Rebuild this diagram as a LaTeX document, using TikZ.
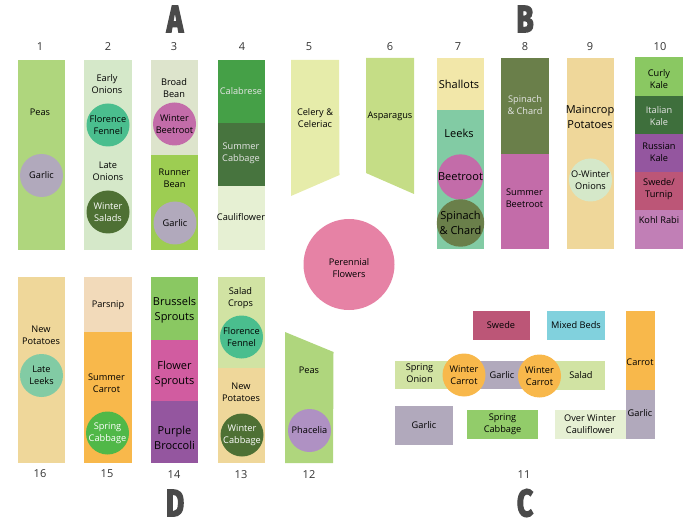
\documentclass[tikz,border=0pt]{standalone}
\usepackage{fontspec}
\setmainfont{Open Sans}
\newfontfamily\blockfont[FakeBold=4]{Fira Sans}
\definecolor{peagreen}{HTML}{AFD67D}
\definecolor{palegreen}{HTML}{D5E8C9}
\definecolor{beangrey}{HTML}{DDE4CC}
\definecolor{beangreen}{HTML}{9DCD52}
\definecolor{calabrese}{HTML}{45A047}
\definecolor{cabbagedark}{HTML}{47743E}
\definecolor{caulipale}{HTML}{E6F0D3}
\definecolor{celery}{HTML}{E6ECAA}
\definecolor{asparagus}{HTML}{C5DD86}
\definecolor{perennial}{HTML}{E682A5}
\definecolor{shallot}{HTML}{F2E7A9}
\definecolor{leek}{HTML}{82CBA4}
\definecolor{chard}{HTML}{6A7F4A}
\definecolor{beetroot}{HTML}{C36CA9}
\definecolor{potato}{HTML}{EFD79A}
\definecolor{curly}{HTML}{8AC862}
\definecolor{italian}{HTML}{3E6F3C}
\definecolor{russian}{HTML}{94569F}
\definecolor{swede}{HTML}{BC5677}
\definecolor{kohl}{HTML}{C17FB6}
\definecolor{parsnip}{HTML}{F2DABA}
\definecolor{carrot}{HTML}{F8B84B}
\definecolor{flowersprout}{HTML}{D15CA0}
\definecolor{saladgreen}{HTML}{D1E3A3}
\definecolor{garlic}{HTML}{B1A9BC}
\definecolor{fennel}{HTML}{4ABE8E}
\definecolor{wintergreen}{HTML}{4E7034}
\definecolor{springgreen}{HTML}{50B848}
\definecolor{phacelia}{HTML}{AF91C3}
\definecolor{mixedbed}{HTML}{81D1DD}
\definecolor{springcab}{HTML}{92CC6A}
\definecolor{inkgrey}{HTML}{4A4A4A}
\tikzset{
    crop/.style={align=center,inner sep=0pt,text=black,font=\fontsize{9.2}{12}\selectfont},
    bigcrop/.style={crop,font=\fontsize{11}{14.5}\selectfont},
    spot/.style={crop,circle,minimum size=43pt},
    bignum/.style={inner sep=0pt,text=black!80,font=\fontsize{11}{12}\selectfont},
    blockletter/.style={inner sep=0pt,text=inkgrey,xscale=0.74,font=\fontsize{38}{38}\blockfont\bfseries}
}
\begin{document}
\begin{tikzpicture}[x=1pt,y=-1pt]
    \useasboundingbox (0,0) rectangle (700,526);
    % block letters
    \node[blockletter] (blockA) at (175,19) {A};
    \node[blockletter] (blockB) at (525,19) {B};
    \node[blockletter] (blockC) at (525,503) {C};
    \node[blockletter] (blockD) at (175,503) {D};
    % bed numbers
    \foreach \num/\x/\y in {1/40/47,2/108/47,3/174/47,4/242/47,5/309/47,6/390/47,7/458/47,8/525/47,9/590/47,10/660/47,
        16/40/474,15/107/474,14/174/475,13/241/475,12/309/475,11/524/475}
        \node[bignum] (num\num) at (\x,\y) {\num};
    % bed 1
    \fill[peagreen] (18,60) rectangle (65,250);
    \node[crop] (peasA) at (40,112) {Peas};
    \node[spot,fill=garlic] (garlicA) at (41.5,175.5) {Garlic};
    % bed 2
    \fill[palegreen] (84,60) rectangle (132,250);
    \node[crop] (earlyonions) at (107,84) {Early\\Onions};
    \node[spot,fill=fennel] (fennelA) at (108,125) {Florence\\Fennel};
    \node[crop] (lateonions) at (108,171) {Late\\Onions};
    \node[spot,fill=wintergreen,text=white] (wintersalads) at (108,212) {Winter\\Salads};
    % bed 3
    \fill[beangrey] (151,60) rectangle (198,155);
    \fill[beangreen] (151,155) rectangle (198,250);
    \node[crop] (broadbean) at (174,88) {Broad\\Bean};
    \node[spot,fill=beetroot] (winterbeet) at (174.5,124) {Winter\\Beetroot};
    \node[crop] (runnerbean) at (174.5,178) {Runner\\Bean};
    \node[spot,fill=garlic] (garlicB) at (175,223) {Garlic};
    % bed 4
    \fill[calabrese] (218,60) rectangle (265,123);
    \fill[cabbagedark] (218,123) rectangle (265,186.5);
    \fill[caulipale] (218,186.5) rectangle (265,250);
    \node[crop,text=white!90!black] (calabreseA) at (241,91) {Calabrese};
    \node[crop,text=white!90!black] (summercab) at (241,153) {Summer\\Cabbage};
    \node[crop] (cauliA) at (241,217) {Cauliflower};
    % beds 5 and 6
    \fill[celery] (291,60) -- (339,60) -- (339.5,175) -- (291,196) -- cycle;
    \node[crop] (celeryA) at (315,118) {Celery \&\\Celeriac};
    \fill[asparagus] (366,58) -- (414,58) -- (414,194) -- (366,173) -- cycle;
    \node[crop] (asparagusA) at (390,116) {Asparagus};
    % flowers
    \fill[perennial] (349,264.5) circle (45.5);
    \node[crop] (flowers) at (349,268) {Perennial\\Flowers};
    % bed 7
    \fill[shallot] (436.5,58) rectangle (484,110);
    \fill[leek] (436.5,110) rectangle (484,249);
    \node[bigcrop] (shallots) at (459,84) {Shallots};
    \node[bigcrop] (leeks) at (459,133) {Leeks};
    \node[spot,fill=beetroot,font=\fontsize{11}{14.5}\selectfont] (beetA) at (460.5,177) {Beetroot};
    \node[spot,fill=chard,font=\fontsize{11}{14.5}\selectfont] (chardA) at (460.5,223) {Spinach\\\& Chard};
    % bed 8
    \fill[chard] (501,58) rectangle (549,154);
    \fill[beetroot] (501,154) rectangle (549,249);
    \node[crop,text=white!90!black] (chardB) at (525,105) {Spinach\\\& Chard};
    \node[crop] (summerbeet) at (524.5,198) {Summer\\Beetroot};
    % bed 9
    \fill[potato] (567,58) rectangle (614,249);
    \node[bigcrop] (maincrop) at (590,117) {Maincrop\\Potatoes};
    \node[spot,fill=palegreen] (owinter) at (590.5,180) {O-Winter\\Onions};
    % bed 10
    \fill[curly] (635,57.5) rectangle (683,96);
    \fill[italian] (635,96) rectangle (683,134);
    \fill[russian] (635,134) rectangle (683,172);
    \fill[swede] (635,172) rectangle (683,210);
    \fill[kohl] (635,210) rectangle (683,249);
    \node[crop] (curlykale) at (659,79) {Curly\\Kale};
    \node[crop,text=white!90!black] (italiankale) at (659,116) {Italian\\Kale};
    \node[crop] (russiankale) at (659,152) {Russian\\Kale};
    \node[crop] (swedeturnip) at (659,189) {Swede/\\Turnip};
    \node[crop] (kohlrabi) at (659,220) {Kohl Rabi};
    % bed 16
    \fill[potato] (18,277) rectangle (65,463);
    \node[crop] (newpotA) at (41,335) {New\\Potatoes};
    \node[spot,fill=leek] (lateleeks) at (41.5,375.5) {Late\\Leeks};
    % bed 15
    \fill[parsnip] (84,277) rectangle (131.5,332);
    \fill[carrot] (84,332) rectangle (131.5,463);
    \node[crop] (parsnipA) at (108,305) {Parsnip};
    \node[crop] (summercarrot) at (106.5,383) {Summer\\Carrot};
    \node[spot,fill=springgreen,text=white] (springcabA) at (107.5,433) {Spring\\Cabbage};
    % bed 14
    \fill[curly] (151,277) rectangle (198,339.5);
    \fill[flowersprout] (151,339.5) rectangle (198,401);
    \fill[russian] (151,401) rectangle (198,463);
    \node[bigcrop] (brussels) at (174.5,310) {Brussels\\Sprouts};
    \node[bigcrop] (flowersprouts) at (174.5,374) {Flower\\Sprouts};
    \node[bigcrop] (broccoli) at (174.5,438) {Purple\\Broccoli};
    % bed 13
    \fill[saladgreen] (218,277) rectangle (265,367.5);
    \fill[potato] (218,367.5) rectangle (265,463);
    \node[crop] (saladcrops) at (240.5,298) {Salad\\Crops};
    \node[spot,fill=fennel] (fennelB) at (241.5,337) {Florence\\Fennel};
    \node[crop] (newpotB) at (241,392) {New\\Potatoes};
    \node[spot,fill=wintergreen,text=white] (wintercab) at (242,435) {Winter\\Cabbage};
    % bed 12
    \fill[peagreen] (285,332) -- (333.5,352) -- (333,463) -- (285,463) -- cycle;
    \node[crop] (peasB) at (309,370) {Peas};
    \node[spot,fill=phacelia] (phaceliaA) at (309.5,430.5) {Phacelia};
    % bed 11
    \fill[swede] (472.5,311) rectangle (530,340);
    \node[crop] (swedeA) at (501,325) {Swede};
    \fill[mixedbed] (547,311) rectangle (605,340);
    \node[crop] (mixedbeds) at (576,325) {Mixed Beds};
    \fill[carrot] (626,311) rectangle (654.5,390);
    \fill[garlic] (626,390) rectangle (654.5,439);
    \node[crop] (carrotA) at (640,362) {Carrot};
    \node[crop] (garlicC) at (640,413.5) {Garlic};
    \fill[saladgreen] (395,360.5) rectangle (460,389);
    \fill[garlic] (460,360.5) rectangle (540,389);
    \fill[saladgreen] (540,361) rectangle (605,389.5);
    \node[crop] (springonion) at (419.5,373) {Spring\\Onion};
    \node[crop] (garlicD) at (502,375.5) {Garlic};
    \node[crop] (salad) at (581,375) {Salad};
    \node[spot,fill=carrot] (carrotB) at (464,375) {Winter\\Carrot};
    \node[spot,fill=carrot] (carrotC) at (539.5,376) {Winter\\Carrot};
    \fill[garlic] (395,406) rectangle (453,444.5);
    \node[crop] (garlicE) at (424,425) {Garlic};
    \fill[springcab] (467,410) rectangle (538,439);
    \node[crop] (springcabB) at (502.5,424.5) {Spring\\Cabbage};
    \fill[caulipale] (555,410) rectangle (626,439);
    \node[crop] (overwinter) at (590,424.5) {Over Winter\\Cauliflower};
\end{tikzpicture}
\end{document}
